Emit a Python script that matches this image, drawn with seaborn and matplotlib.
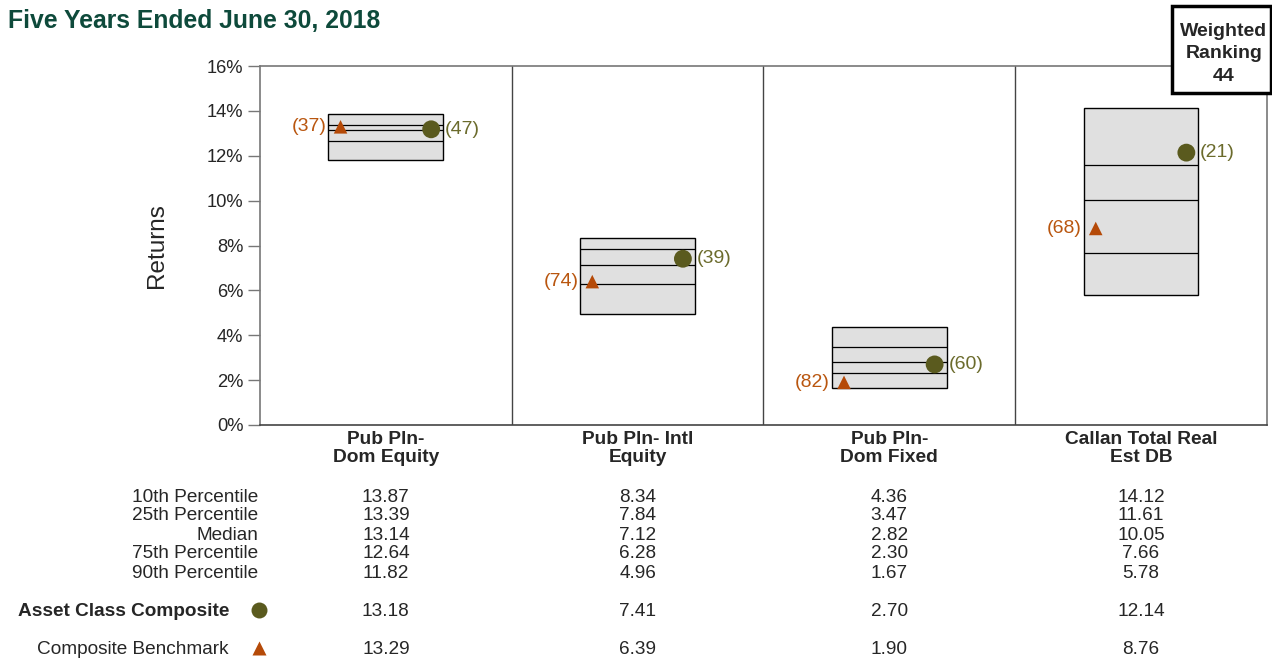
import numpy as np
import pandas as pd
import seaborn as sns
import matplotlib.pyplot as plt
from matplotlib.lines import Line2D
from matplotlib.patches import Rectangle
from matplotlib.transforms import blended_transform_factory

# ===== DATA =====
categories = ["Pub Pln-\nDom Equity", "Pub Pln- Intl\nEquity",
              "Pub Pln-\nDom Fixed", "Callan Total Real\nEst DB"]
p10 = [13.87, 8.34, 4.36, 14.12]
p25 = [13.39, 7.84, 3.47, 11.61]
median = [13.14, 7.12, 2.82, 10.05]
p75 = [12.64, 6.28, 2.30, 7.66]
p90 = [11.82, 4.96, 1.67, 5.78]
composite = [13.18, 7.41, 2.70, 12.14]
composite_rank = [47, 39, 60, 21]
benchmark = [13.29, 6.39, 1.90, 8.76]
benchmark_rank = [37, 74, 82, 68]
row_labels = ["10th Percentile", "25th Percentile", "Median",
              "75th Percentile", "90th Percentile"]
weighted_ranking = 44

# ===== STYLE =====
sns.set_style("white")
plt.rcParams["font.family"] = ["Liberation Sans", "DejaVu Sans"]

TITLE_COLOR = "#0e4a3b"
COMP_COLOR = "#5a5a1e"
COMP_TEXT = "#6b6b2c"
BENCH_COLOR = "#b54a08"
BENCH_TEXT = "#b9560f"
BOX_FILL = "#e0e0e0"
BOX_W = 0.456
OFFSET = 0.18
TABLE_FS = 13.7

df = pd.DataFrame({"category": categories, "p10": p10, "p25": p25, "median": median,
                   "p75": p75, "p90": p90, "composite": composite, "benchmark": benchmark})
df["span"] = df["p10"] - df["p90"]
df["pos"] = np.arange(len(df))

fig = plt.figure(figsize=(12.72, 6.59), dpi=100)
ax = fig.add_axes([0.2044, 0.3551, 0.7916, 0.5447])

# floating boxes (90th -> 10th)
sns.barplot(data=df, x="category", y="span", bottom=df["p90"].values, ax=ax,
            width=BOX_W, color=BOX_FILL, edgecolor="black", linewidth=1.0,
            errorbar=None, saturation=1, zorder=2)

# percentile lines inside boxes
for col in ["p25", "median", "p75"]:
    ax.hlines(df[col], df["pos"] - BOX_W / 2, df["pos"] + BOX_W / 2,
              color="black", linewidth=0.9, zorder=3)

# composite / benchmark markers
sns.scatterplot(x=df["pos"] + OFFSET, y=df["composite"], ax=ax, marker="o", s=165,
                color=COMP_COLOR, edgecolor="none", zorder=4)
sns.scatterplot(x=df["pos"] - OFFSET, y=df["benchmark"], ax=ax, marker="^", s=95,
                color=BENCH_COLOR, edgecolor="none", zorder=4)

for i in range(len(df)):
    ax.annotate(f"({composite_rank[i]})", (df["pos"][i] + OFFSET, composite[i]),
                xytext=(10, 0), textcoords="offset points", ha="left", va="center",
                fontsize=14, color=COMP_TEXT)
    ax.annotate(f"({benchmark_rank[i]})", (df["pos"][i] - OFFSET, benchmark[i]),
                xytext=(-10, 0), textcoords="offset points", ha="right", va="center",
                fontsize=14, color=BENCH_TEXT)

# column dividers
for x in [0.5, 1.5, 2.5]:
    ax.axvline(x, color="#444444", linewidth=1.0, zorder=1)

ax.set_xlim(-0.5, 3.5)
ax.set_ylim(0, 16)
ax.set_yticks(np.arange(0, 17, 2))
ax.set_yticklabels([f"{v}%" for v in range(0, 17, 2)], fontsize=13.2)
ax.set_xlabel("")
ax.set_ylabel("Returns", fontsize=17.5, labelpad=28)
ax.tick_params(axis="y", length=9, width=1, color="#777777", pad=3, left=True)
ax.tick_params(axis="x", length=0, pad=4.5)
ax.set_xticks(range(len(categories)))
ax.set_xticklabels(categories, fontsize=13.8, fontweight="bold", linespacing=1.05)
for side in ["left", "top", "right"]:
    ax.spines[side].set_color("#777777")
    ax.spines[side].set_linewidth(1.2)
ax.spines["bottom"].set_color("#444444")
ax.spines["bottom"].set_linewidth(1.2)

# title
fig.text(8 / 1272, 1 - 21 / 659, "Five Years Ended June 30, 2018", fontsize=17.8,
         fontweight="bold", color=TITLE_COLOR, ha="left", va="center")

# weighted ranking box
fig.add_artist(Rectangle((1172 / 1272, 1 - 93 / 659), 99 / 1272, 87 / 659,
                         transform=fig.transFigure, facecolor="white",
                         edgecolor="black", linewidth=2.5, zorder=5))
fig.text(1224 / 1272, 1 - 54 / 659, f"Weighted\nRanking\n{weighted_ranking}",
         fontsize=14, fontweight="bold", ha="center", va="center",
         linespacing=1.42, zorder=6)

# ===== TABLE =====
trans = blended_transform_factory(ax.transData, fig.transFigure)
label_x = 258 / 1272
row_y = [497, 516, 535, 554, 574]
for lbl, y, vals in zip(row_labels, row_y, [p10, p25, median, p75, p90]):
    fy = 1 - y / 659
    fig.text(label_x, fy, lbl, fontsize=TABLE_FS, ha="right", va="center")
    for i, v in enumerate(vals):
        ax.text(i, fy, f"{v:.2f}", transform=trans, fontsize=TABLE_FS,
                ha="center", va="center", clip_on=False)

for lbl, y, vals, mk, mc, ms, bold in [
        ("Asset Class Composite", 612, composite, "o", COMP_COLOR, 11.5, True),
        ("Composite Benchmark", 650, benchmark, "^", BENCH_COLOR, 9.5, False)]:
    fy = 1 - y / 659
    fig.text(229 / 1272, fy, lbl, fontsize=TABLE_FS, ha="right", va="center",
             fontweight="bold" if bold else "normal")
    fig.add_artist(Line2D([259 / 1272], [fy + 2 / 659], marker=mk, markersize=ms,
                          color=mc, markeredgecolor="none", linestyle="none",
                          transform=fig.transFigure))
    for i, v in enumerate(vals):
        ax.text(i, fy, f"{v:.2f}", transform=trans, fontsize=TABLE_FS,
                ha="center", va="center", clip_on=False)

fig.savefig("out.png", dpi=100)
